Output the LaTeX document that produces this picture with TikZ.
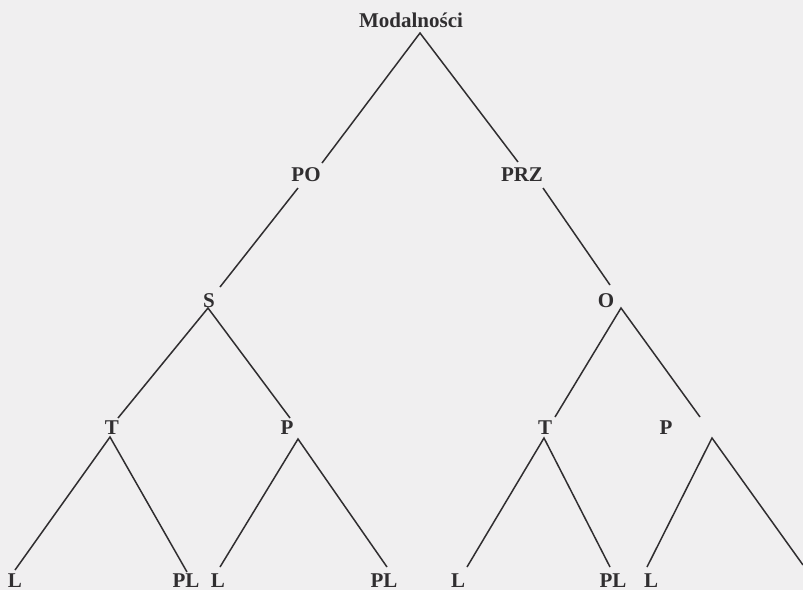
\documentclass[tikz,border=0pt]{standalone}
\usepackage{fontspec}
\setmainfont{Liberation Serif}
\definecolor{paper}{RGB}{240,239,240}
\definecolor{ink}{RGB}{48,46,48}
\begin{document}
\begin{tikzpicture}[x=1pt,y=-1pt,
  lab/.style={anchor=base,inner sep=0pt,text=ink,font=\fontsize{21}{24}\selectfont\bfseries},
  edge/.style={draw=ink,line width=1.5pt}]
\fill[paper] (0,0) rectangle (803,590);
\useasboundingbox (0,0) rectangle (803,590);
% labels
\node[lab] (M)   at (411,27)  {Modalności};
\node[lab] (PO)  at (306,181) {PO};
\node[lab] (PRZ) at (522,181) {PRZ};
\node[lab] (S)   at (209,307) {S};
\node[lab] (O)   at (606,307) {O};
\node[lab] (T1)  at (112,434) {T};
\node[lab] (P1)  at (287,434) {P};
\node[lab] (T2)  at (545,434) {T};
\node[lab] (P2)  at (666,434) {P};
\node[lab] (L1)  at (15,587)  {L};
\node[lab] (PL1) at (186,587) {PL};
\node[lab] (L2)  at (218,587) {L};
\node[lab] (PL2) at (384,587) {PL};
\node[lab] (L3)  at (458,587) {L};
\node[lab] (PL3) at (613,587) {PL};
\node[lab] (L4)  at (651,587) {L};
% line end points
\coordinate (mA) at (420,33);
\coordinate (poT) at (322,163);
\coordinate (przT) at (518,162);
\coordinate (poB) at (298,188);
\coordinate (sT) at (220,287);
\coordinate (przB) at (543,188);
\coordinate (oT) at (610,285);
\coordinate (sA) at (208,308);
\coordinate (t1T) at (118,418);
\coordinate (p1T) at (290,418);
\coordinate (oA) at (621,308);
\coordinate (t2T) at (555,417);
\coordinate (p2T) at (700,417);
\coordinate (t1A) at (110,437);
\coordinate (l1T) at (15,570);
\coordinate (pl1T) at (187,572);
\coordinate (p1A) at (298,439);
\coordinate (l2T) at (220,567);
\coordinate (pl2T) at (387,567);
\coordinate (t2A) at (544,438);
\coordinate (l3T) at (467,567);
\coordinate (pl3T) at (610,567);
\coordinate (p2A) at (712,438);
\coordinate (l4T) at (647,567);
\coordinate (rEnd) at (803,565);
% connectors
\draw[edge] (poT) -- (mA) -- (przT);
\draw[edge] (poB) -- (sT);
\draw[edge] (przB) -- (oT);
\draw[edge] (t1T) -- (sA) -- (p1T);
\draw[edge] (t2T) -- (oA) -- (p2T);
\draw[edge] (l1T) -- (t1A) -- (pl1T);
\draw[edge] (l2T) -- (p1A) -- (pl2T);
\draw[edge] (l3T) -- (t2A) -- (pl3T);
\draw[edge] (l4T) -- (p2A) -- (rEnd);
\end{tikzpicture}
\end{document}
